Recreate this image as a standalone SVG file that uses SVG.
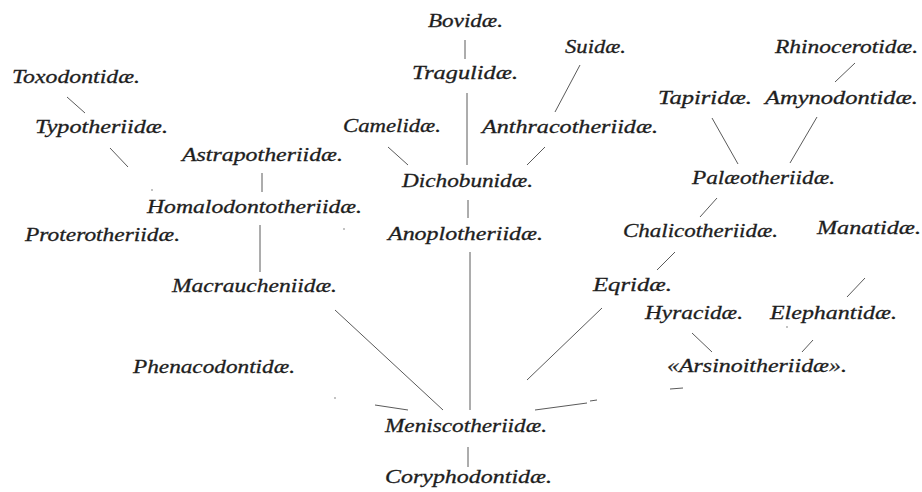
<svg xmlns="http://www.w3.org/2000/svg" width="922" height="492" viewBox="0 0 922 492">
<style>
  text { font-family: "Liberation Serif", "Times New Roman", serif; font-style: italic; font-size: 19px; fill: #1e1e1e; stroke: #1e1e1e; stroke-width: 0.3; }
  .c line { stroke: #5a5a5a; stroke-width: 1; fill: none; }
  .dot { fill: #777; }
</style>
<rect width="922" height="492" fill="#ffffff"/>
<g id="connectors" class="c">
  <line x1="465" y1="40" x2="465" y2="59"/>
  <line x1="467" y1="93" x2="467" y2="165"/>
  <line x1="580" y1="65" x2="555" y2="112"/>
  <line x1="388" y1="147" x2="408" y2="165"/>
  <line x1="545" y1="147" x2="527" y2="165"/>
  <line x1="468" y1="200" x2="468" y2="218"/>
  <line x1="470" y1="252" x2="470" y2="410"/>
  <line x1="67" y1="97" x2="85" y2="113"/>
  <line x1="110" y1="148" x2="128" y2="167"/>
  <line x1="262" y1="173" x2="262" y2="192"/>
  <line x1="260" y1="225" x2="260" y2="272"/>
  <line x1="335" y1="310" x2="443" y2="410"/>
  <line x1="375" y1="405" x2="408" y2="410"/>
  <line x1="602" y1="308" x2="527" y2="380"/>
  <line x1="535" y1="410" x2="587" y2="403"/>
  <line x1="590" y1="401" x2="597" y2="400"/>
  <line x1="670" y1="389" x2="683" y2="388"/>
  <line x1="468" y1="447" x2="468" y2="467"/>
  <line x1="855" y1="63" x2="835" y2="82"/>
  <line x1="712" y1="118" x2="738" y2="164"/>
  <line x1="817" y1="117" x2="790" y2="163"/>
  <line x1="717" y1="198" x2="700" y2="217"/>
  <line x1="675" y1="252" x2="657" y2="270"/>
  <line x1="865" y1="278" x2="847" y2="297"/>
  <line x1="692" y1="333" x2="712" y2="352"/>
  <line x1="813" y1="340" x2="802" y2="352"/>
  <circle class="dot" cx="152" cy="190" r="0.8"/>
  <circle class="dot" cx="344" cy="229" r="0.8"/>
  <circle class="dot" cx="335" cy="398" r="0.8"/>
  <circle class="dot" cx="787" cy="327" r="0.8"/>
</g>
<g id="bovidae"><text x="428" y="27" textLength="75" lengthAdjust="spacingAndGlyphs">Bovidæ.</text></g>
<g id="tragulidae"><text x="412" y="79" textLength="106" lengthAdjust="spacingAndGlyphs">Tragulidæ.</text></g>
<g id="suidae"><text x="565" y="53" textLength="61" lengthAdjust="spacingAndGlyphs">Suidæ.</text></g>
<g id="rhinocerotidae"><text x="775" y="53" textLength="143" lengthAdjust="spacingAndGlyphs">Rhinocerotidæ.</text></g>
<g id="toxodontidae"><text x="12" y="83" textLength="128" lengthAdjust="spacingAndGlyphs">Toxodontidæ.</text></g>
<g id="tapiridae"><text x="658" y="104" textLength="94" lengthAdjust="spacingAndGlyphs">Tapiridæ.</text></g>
<g id="amynodontidae"><text x="765" y="104" textLength="153" lengthAdjust="spacingAndGlyphs">Amynodontidæ.</text></g>
<g id="typotheriidae"><text x="35" y="133" textLength="133" lengthAdjust="spacingAndGlyphs">Typotheriidæ.</text></g>
<g id="camelidae"><text x="343" y="132" textLength="98" lengthAdjust="spacingAndGlyphs">Camelidæ.</text></g>
<g id="anthracotheriidae"><text x="482" y="133" textLength="176" lengthAdjust="spacingAndGlyphs">Anthracotheriidæ.</text></g>
<g id="astrapotheriidae"><text x="182" y="161" textLength="161" lengthAdjust="spacingAndGlyphs">Astrapotheriidæ.</text></g>
<g id="dichobunidae"><text x="402" y="187" textLength="131" lengthAdjust="spacingAndGlyphs">Dichobunidæ.</text></g>
<g id="palaeotheriidae"><text x="692" y="184" textLength="143" lengthAdjust="spacingAndGlyphs">Palæotheriidæ.</text></g>
<g id="homalodontotheriidae"><text x="147" y="213" textLength="215" lengthAdjust="spacingAndGlyphs">Homalodontotheriidæ.</text></g>
<g id="proterotheriidae"><text x="25" y="241" textLength="155" lengthAdjust="spacingAndGlyphs">Proterotheriidæ.</text></g>
<g id="chalicotheriidae"><text x="623" y="237" textLength="155" lengthAdjust="spacingAndGlyphs">Chalicotheriidæ.</text></g>
<g id="anoplotheriidae"><text x="388" y="240" textLength="155" lengthAdjust="spacingAndGlyphs">Anoplotheriidæ.</text></g>
<g id="manatidae"><text x="817" y="234" textLength="104" lengthAdjust="spacingAndGlyphs">Manatidæ.</text></g>
<g id="macraucheniidae"><text x="172" y="292" textLength="165" lengthAdjust="spacingAndGlyphs">Macraucheniidæ.</text></g>
<g id="eqridae"><text x="593" y="291" textLength="79" lengthAdjust="spacingAndGlyphs">Eqridæ.</text></g>
<g id="hyracidae"><text x="645" y="319" textLength="98" lengthAdjust="spacingAndGlyphs">Hyracidæ.</text></g>
<g id="elephantidae"><text x="770" y="319" textLength="127" lengthAdjust="spacingAndGlyphs">Elephantidæ.</text></g>
<g id="phenacodontidae"><text x="133" y="373" textLength="162" lengthAdjust="spacingAndGlyphs">Phenacodontidæ.</text></g>
<g id="arsinoitheriidae"><text x="667" y="372" textLength="180" lengthAdjust="spacingAndGlyphs">«Arsinoitheriidæ».</text></g>
<g id="meniscotheriidae"><text x="385" y="432" textLength="162" lengthAdjust="spacingAndGlyphs">Meniscotheriidæ.</text></g>
<g id="coryphodontidae"><text x="385" y="483" textLength="167" lengthAdjust="spacingAndGlyphs">Coryphodontidæ.</text></g>
</svg>
